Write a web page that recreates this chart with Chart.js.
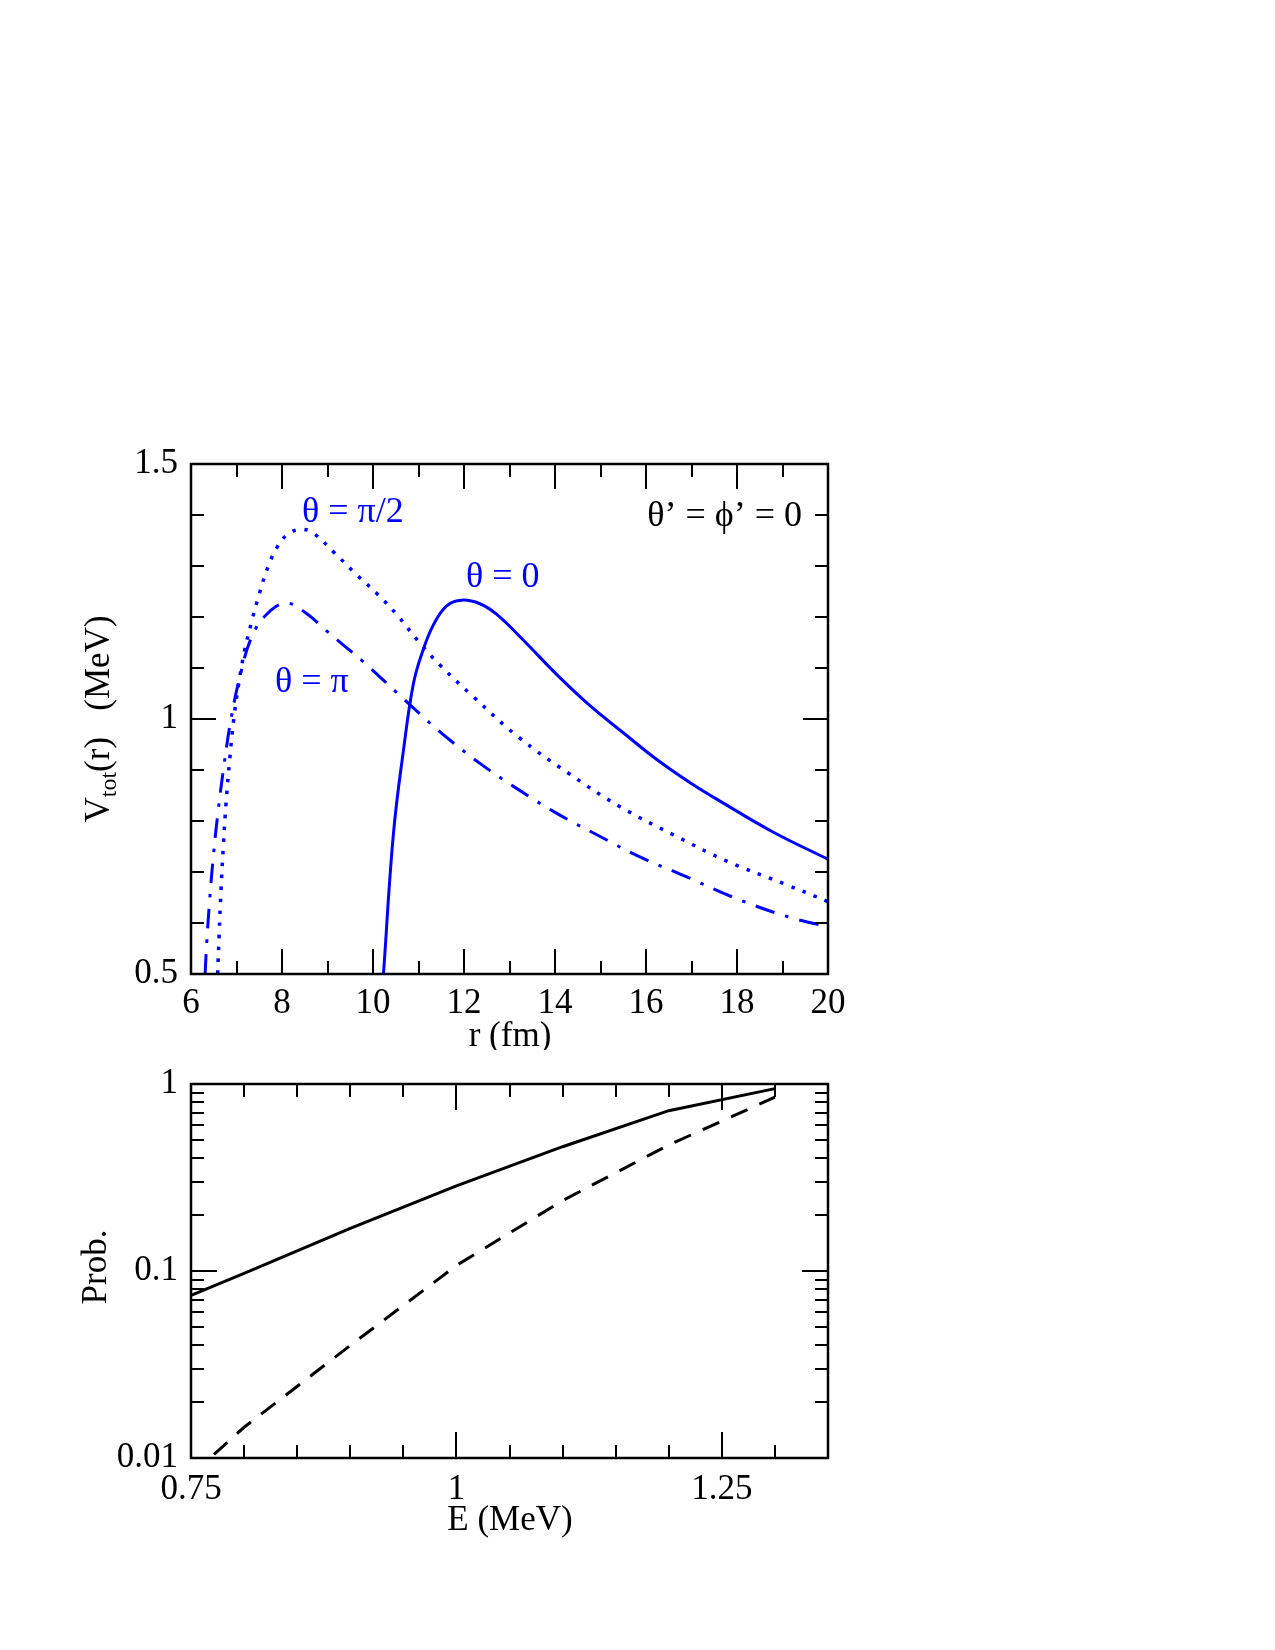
<!DOCTYPE html>
<html><head><meta charset="utf-8">
<script src="https://cdn.jsdelivr.net/npm/chart.js@4.4.0/dist/chart.umd.min.js"></script>
<style>
body{margin:0;background:#fff;width:1275px;height:1650px;position:relative;overflow:hidden}
canvas{position:absolute;left:0}
</style></head>
<body>
<canvas id="c1" width="1275" height="1050" style="top:0px"></canvas>
<canvas id="c2" width="1275" height="600" style="top:1050px"></canvas>
<script>
// ---------- Top panel data: V_tot(r) ----------
const rTheta0 = [10.23, 10.45, 10.67, 10.89, 11.1, 11.33, 11.62, 11.95, 12.35, 12.72, 13.30, 14.04, 14.77, 15.50, 16.23, 16.97, 17.70, 18.80, 20];
const vTheta0 = [0.5, 0.776, 0.939, 1.07, 1.135, 1.185, 1.222, 1.233, 1.226, 1.205, 1.155, 1.087, 1.026, 0.973, 0.921, 0.875, 0.835, 0.778, 0.725];
const rPiHalf = [6.585, 6.62, 6.66, 6.71, 6.77, 6.85, 6.94, 7.05, 7.18, 7.33, 7.50, 7.70, 7.90, 8.10, 8.40, 8.69, 9.16, 9.64, 10.12, 10.52, 11.0, 11.47, 12.2, 13.19, 14.29, 15.43, 16.6, 17.81, 19.09, 20];
const vPiHalf = [0.5, 0.58, 0.665, 0.75, 0.835, 0.92, 1.0, 1.07, 1.135, 1.19, 1.245, 1.300, 1.338, 1.360, 1.372, 1.364, 1.325, 1.283, 1.243, 1.205, 1.152, 1.106, 1.044, 0.965, 0.894, 0.828, 0.773, 0.72, 0.675, 0.642];
const rPi = [6.31, 6.345, 6.41, 6.49, 6.59, 6.72, 6.88, 7.08, 7.33, 7.66, 8.10, 8.54, 8.95, 9.35, 9.79, 10.52, 11.03, 11.55, 12.35, 13.19, 14.04, 14.92, 15.83, 16.75, 18.07, 19.24, 20];
const vPi = [0.5, 0.56, 0.645, 0.73, 0.815, 0.906, 1.0, 1.085, 1.16, 1.205, 1.227, 1.207, 1.175, 1.145, 1.112, 1.052, 1.01, 0.969, 0.913, 0.862, 0.815, 0.773, 0.731, 0.696, 0.645, 0.609, 0.593];
const topXTicks = [6, 8, 10, 12, 14, 16, 18, 20];
const topXMinor = [7, 9, 11, 13, 15, 17, 19];
const topYTicks = [0.5, 1, 1.5];
const topYMinor = [0.6, 0.7, 0.8, 0.9, 1.1, 1.2, 1.3, 1.4];

// ---------- Bottom panel data: Prob.(E) ----------
const energies = [0.75, 0.8, 0.9, 1.0, 1.1, 1.2, 1.3];
const probSolid = [0.074, 0.097, 0.169, 0.285, 0.462, 0.72, 0.945];
const probDashed = [0.0081, 0.0146, 0.040, 0.107, 0.238, 0.472, 0.85];
const botXTicks = [0.75, 1, 1.25];
const botXMinor = [0.8, 0.85, 0.9, 0.95, 1.05, 1.1, 1.15, 1.2, 1.3];
const botYTicks = [0.01, 0.1, 1];
const botYMinor = [0.02,0.03,0.04,0.05,0.06,0.07,0.08,0.09,0.2,0.3,0.4,0.5,0.6,0.7,0.8,0.9];

const FONT = '"Liberation Serif", "Times New Roman", serif';
const BLUE = '#0000ff';
const FS = 35;
Chart.defaults.font.family = FONT;
Chart.defaults.color = '#000';

const pts = (xs, ys) => xs.map((x, i) => ({x: x, y: ys[i]}));

function frameTicks(xMaj, xMin, yMaj, yMin, majLen, minLen) {
  return {
    id: 'frameTicks',
    afterDatasetsDraw(chart) {
      const ctx = chart.ctx, a = chart.chartArea, xs = chart.scales.x, ys = chart.scales.y;
      ctx.save();
      ctx.strokeStyle = '#000';
      ctx.lineWidth = 2;
      ctx.beginPath();
      const vx = (v, len) => { const p = Math.round(xs.getPixelForValue(v));
        ctx.moveTo(p, a.bottom); ctx.lineTo(p, a.bottom - len);
        ctx.moveTo(p, a.top); ctx.lineTo(p, a.top + len); };
      const hy = (v, len) => { const p = Math.round(ys.getPixelForValue(v));
        ctx.moveTo(a.left, p); ctx.lineTo(a.left + len, p);
        ctx.moveTo(a.right, p); ctx.lineTo(a.right - len, p); };
      xMaj.forEach(v => vx(v, majLen)); xMin.forEach(v => vx(v, minLen));
      yMaj.forEach(v => hy(v, majLen)); yMin.forEach(v => hy(v, minLen));
      ctx.stroke();
      ctx.lineWidth = 2.5;
      ctx.strokeRect(a.left, a.top, a.right - a.left, a.bottom - a.top);
      ctx.restore();
    }
  };
}

function textPlugin(items) {
  return {
    id: 'texts',
    afterDraw(chart) {
      const ctx = chart.ctx;
      ctx.save();
      items.forEach(it => {
        ctx.save();
        ctx.translate(it.x, it.y);
        if (it.rot) ctx.rotate(-Math.PI / 2);
        ctx.fillStyle = it.color || '#000';
        ctx.textBaseline = 'middle';
        if (it.parts) {
          let total = 0;
          it.parts.forEach(p => { ctx.font = p.size + 'px ' + FONT; total += ctx.measureText(p.t).width; });
          let x = it.align === 'left' ? 0 : -total / 2;
          ctx.textAlign = 'left';
          it.parts.forEach(p => { ctx.font = p.size + 'px ' + FONT; ctx.fillText(p.t, x, p.dy || 0); x += ctx.measureText(p.t).width; });
        } else {
          ctx.font = it.size + 'px ' + FONT;
          ctx.textAlign = it.align || 'center';
          ctx.fillText(it.t, 0, 0);
        }
        ctx.restore();
      });
      ctx.restore();
    }
  };
}

const fixTicks = (vals) => (scale) => { scale.ticks = vals.map(v => ({value: v})); };
const noGrid = {display: false, drawTicks: false};

// ---------- Top chart ----------
new Chart(document.getElementById('c1'), {
  type: 'line',
  data: {
    datasets: [
      {data: pts(rTheta0, vTheta0), borderColor: BLUE, borderWidth: 3, pointRadius: 0, tension: 0.4, fill: false},
      {data: pts(rPiHalf, vPiHalf), borderColor: BLUE, borderWidth: 3.5, borderDash: [3.5, 8.5], borderCapStyle: 'butt', pointRadius: 0, tension: 0.4, fill: false},
      {data: pts(rPi, vPi), borderColor: BLUE, borderWidth: 3, borderDash: [20, 11, 3.5, 11], borderCapStyle: 'butt', pointRadius: 0, tension: 0.4, fill: false}
    ]
  },
  options: {
    responsive: false, animation: false, devicePixelRatio: 1,
    layout: {padding: {left: 0, right: 447, top: 464, bottom: 16}},
    plugins: {legend: {display: false}, tooltip: {enabled: false}},
    scales: {
      x: {type: 'linear', min: 6, max: 20, grid: noGrid, border: {display: false},
          afterBuildTicks: fixTicks(topXTicks),
          afterFit: s => { s.height = 60; },
          ticks: {font: {size: FS}, padding: 9, maxRotation: 0, callback: v => String(v)}},
      y: {type: 'linear', min: 0.5, max: 1.5, grid: noGrid, border: {display: false},
          afterBuildTicks: fixTicks(topYTicks),
          afterFit: s => { s.width = 191; },
          ticks: {font: {size: FS}, padding: 13, callback: v => String(v)}}
    }
  },
  plugins: [
    frameTicks(topXTicks, topXMinor, topYTicks, topYMinor, 25, 13),
    textPlugin([
      {t: 'r (fm)', x: 510, y: 1037, size: FS},
      {rot: true, x: 100, y: 719, parts: [
        {t: 'V', size: FS}, {t: 'tot', size: 24, dy: 10}, {t: '(r)   (MeV)', size: FS}]},
      {t: 'θ = π/2', x: 302, y: 513, size: 36, align: 'left', color: BLUE},
      {t: 'θ = 0', x: 466, y: 578, size: 36, align: 'left', color: BLUE},
      {t: 'θ = π', x: 275, y: 683, size: 36, align: 'left', color: BLUE},
      {t: 'θ’ = ϕ’ = 0', x: 802, y: 517, size: 36, align: 'right'}
    ])
  ]
});

// ---------- Bottom chart ----------
new Chart(document.getElementById('c2'), {
  type: 'line',
  data: {
    datasets: [
      {data: pts(energies, probSolid), borderColor: '#000', borderWidth: 3, pointRadius: 0, tension: 0, fill: false},
      {data: pts(energies, probDashed), borderColor: '#000', borderWidth: 3, borderDash: [18, 13], borderCapStyle: 'butt', pointRadius: 0, tension: 0, fill: false}
    ]
  },
  options: {
    responsive: false, animation: false, devicePixelRatio: 1,
    layout: {padding: {left: 0, right: 447, top: 26, bottom: 132}},
    plugins: {legend: {display: false}, tooltip: {enabled: false}},
    scales: {
      x: {type: 'linear', min: 0.75, max: 1.35, grid: noGrid, border: {display: false},
          afterBuildTicks: fixTicks(botXTicks),
          afterFit: s => { s.height = 60; },
          ticks: {font: {size: FS}, padding: 11, maxRotation: 0, callback: v => String(v)}},
      y: {type: 'logarithmic', min: 0.01, max: 1, grid: noGrid, border: {display: false},
          afterBuildTicks: fixTicks(botYTicks),
          afterFit: s => { s.width = 191; },
          ticks: {font: {size: FS}, padding: 13, callback: v => String(v)}}
    }
  },
  plugins: [
    frameTicks(botXTicks, botXMinor, botYTicks, botYMinor, 26, 13),
    textPlugin([
      {t: 'E (MeV)', x: 510, y: 1521 - 1050, size: FS},
      {t: 'Prob.', x: 97, y: 1267 - 1050, size: FS, rot: true}
    ])
  ]
});
</script>
</body></html>
